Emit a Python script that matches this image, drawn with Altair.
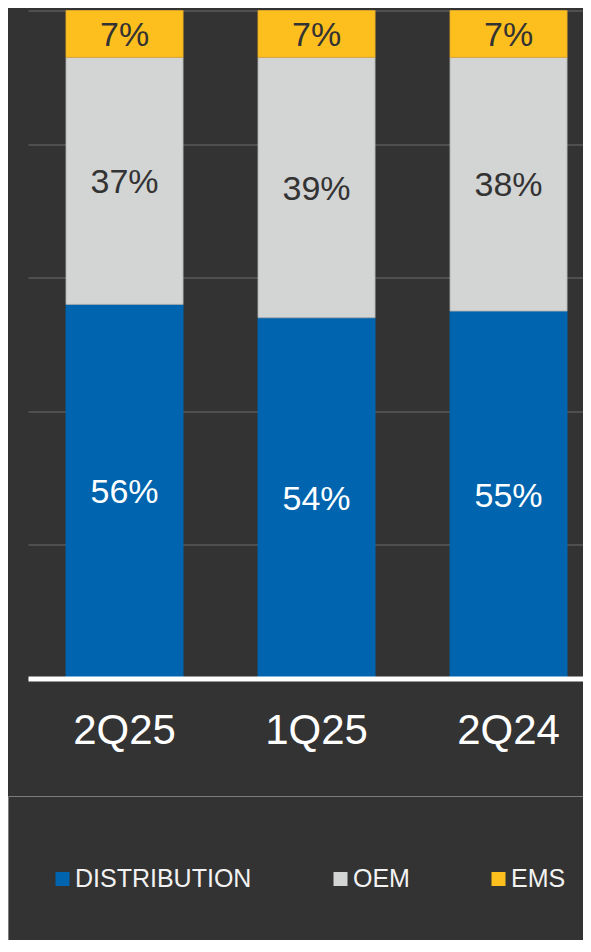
import altair as alt
import pandas as pd

quarters = ["2Q25", "1Q25", "2Q24"]
segments = ["DISTRIBUTION", "OEM", "EMS"]
distribution = [56, 54, 55]
oem = [37, 39, 38]
ems = [7, 7, 7]
seg_colors = ["#0064AE", "#D3D4D4", "#FDBF1E"]
seg_edges = ["#0064AE", "#A9AAAA", "#E3A726"]
label_colors = ["#FFFFFF", "#333333", "#333333"]

rows = []
for i, q in enumerate(quarters):
    for j, (seg, vals) in enumerate(zip(segments, [distribution, oem, ems])):
        rows.append({"quarter": q, "segment": seg, "value": vals[i],
                     "ord": j, "label": f"{vals[i]}%", "tcolor": label_colors[j]})
df = pd.DataFrame(rows)

FONT = "Liberation Sans"

x_enc = alt.X(
    "quarter:N",
    sort=quarters,
    scale=alt.Scale(paddingInner=0.39, paddingOuter=0.1403, align=0.705, round=False),
    axis=alt.Axis(
        title=None, labelAngle=0, ticks=False, labelFontSize=42, labelFont=FONT,
        labelColor="#FFFFFF", labelPadding=32, domainColor="#FFFFFF", domainWidth=5,
        grid=False, zindex=1,
    ),
)

base = alt.Chart(df).transform_stack(
    stack="value", groupby=["quarter"], sort=[alt.SortField("ord")], as_=["y0", "y1"]
)

bars = base.mark_bar(strokeWidth=0.8).encode(
    x=x_enc,
    y=alt.Y(
        "y0:Q",
        scale=alt.Scale(domain=[0, 100], nice=False),
        axis=alt.Axis(
            title=None, labels=False, ticks=False, domain=False, grid=True,
            values=[0, 20, 40, 60, 80, 100], gridColor="#5A5A5A", gridWidth=1.3,
        ),
    ),
    y2="y1:Q",
    color=alt.Color(
        "segment:N",
        scale=alt.Scale(domain=segments, range=seg_colors),
        legend=alt.Legend(
            title=None, orient="none", legendX=-20, legendY=785.5,
            direction="horizontal", padding=40, strokeColor="#7C7C7C",
            clipHeight=86, symbolType="square", symbolSize=196,
            symbolStrokeWidth=0, symbolOffset=2, labelFont=FONT, labelFontSize=25,
            labelColor="#F2F2F2", labelOffset=0, columnPadding=74, labelLimit=400,
        ),
    ),
    stroke=alt.Stroke(
        "segment:N", scale=alt.Scale(domain=segments, range=seg_edges), legend=None
    ),
)

texts = base.transform_calculate(mid="(datum.y0 + datum.y1) / 2").mark_text(
    font=FONT, fontSize=34, baseline="middle", align="center", dy=2
).encode(
    x=alt.X("quarter:N", sort=quarters),
    y=alt.Y("mid:Q"),
    text="label:N",
    color=alt.Color("tcolor:N", scale=None),
)

chart = alt.layer(bars, texts).properties(
    width=555,
    height=668,
    background="#333333",
    padding={"left": 20, "top": 2.5, "right": 0, "bottom": 261.5},
    autosize=alt.AutoSizeParams(type="none"),
).configure_view(stroke=None)

chart.save("out.html", embed_options={"renderer": "svg", "actions": False})
